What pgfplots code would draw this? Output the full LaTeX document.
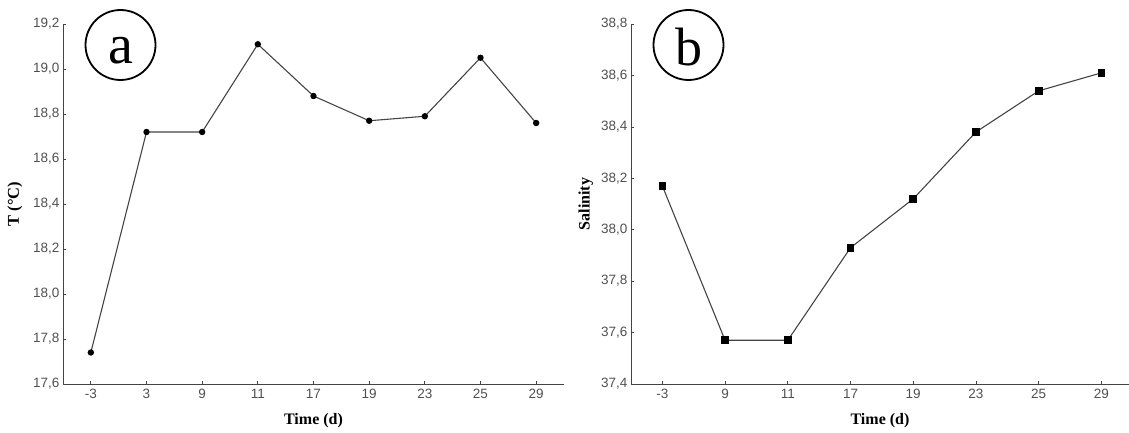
\documentclass[border=0pt]{standalone}
\usepackage{pgfplots}
\pgfplotsset{compat=1.18}
\usepackage{fontspec}
\setmainfont{Liberation Serif}
\newfontfamily\arialfont{Liberation Sans}
\definecolor{tickgray}{HTML}{505050}
\definecolor{linegray}{HTML}{444444}
\begin{document}
\begin{tikzpicture}
\useasboundingbox (0pt,0pt) rectangle (1129pt,432pt);
\pgfplotsset{
  myaxis/.style={
    scale only axis,
    height=360pt,
    axis x line*=bottom,
    axis y line*=left,
    axis line style={draw=linegray, line width=0.9pt},
    tick style={draw=linegray, line width=0.7pt},
    major tick length=3pt,
    tick align=inside,
    xtick=data,
    ytick distance=0.2,
    tick label style={font=\arialfont\fontsize{13.5}{13.5}\selectfont, text=tickgray},
    xticklabel style={yshift=-2pt},
    /pgf/number format/.cd, fixed, fixed zerofill, precision=1, use comma, assume math mode=true,
    /pgfplots/.cd,
    xlabel={\textbf{Time (d)}},
    xlabel style={font=\fontsize{16}{16}\selectfont, at={(axis description cs:0.5,-0.103)}, anchor=center},
    every axis plot/.append style={draw=linegray, line width=1.1pt},
  }
}
\begin{axis}[myaxis,
  at={(63pt,48pt)}, anchor=south west,
  width=501pt,
  xmin=-0.5, xmax=8.5,
  ymin=17.6, ymax=19.2,
  xticklabels={-3,3,9,11,17,19,23,25,29},
  ylabel={\textbf{T (\textdegree C)}},
  ylabel style={font=\fontsize{16.5}{16.5}\selectfont, at={(axis description cs:-0.096,0.5)}, anchor=center},
]
\addplot[mark=*, mark size=2.6pt, mark options={fill=black, draw=black, solid}] coordinates {
(0,17.74) (1,18.72) (2,18.72) (3,19.11) (4,18.88) (5,18.77) (6,18.79) (7,19.05) (8,18.76)
};
\end{axis}
\begin{axis}[myaxis,
  at={(631pt,48pt)}, anchor=south west,
  width=498pt,
  xmin=-0.5, xmax=7.44,
  ymin=37.4, ymax=38.8,
  xticklabels={-3,9,11,17,19,23,25,29},
  ylabel={\textbf{Salinity}},
  ylabel style={font=\fontsize{16}{16}\selectfont, at={(axis description cs:-0.091,0.5)}, anchor=center},
]
\addplot[mark=square*, mark size=3.3pt, mark options={fill=black, draw=black, solid}] coordinates {
(0,38.17) (1,37.57) (2,37.57) (3,37.93) (4,38.12) (5,38.38) (6,38.54) (7,38.61)
};
\end{axis}
\node[circle, draw=black, line width=1.8pt, minimum size=70pt, inner sep=0pt] at (120.5pt,387pt) {};
\node at (120.5pt,381pt) {\fontsize{56}{56}\selectfont a};
\node[circle, draw=black, line width=1.8pt, minimum size=70pt, inner sep=0pt] at (688.5pt,387pt) {};
\node at (688.5pt,385pt) {\fontsize{54}{54}\selectfont b};
\end{tikzpicture}
\end{document}
